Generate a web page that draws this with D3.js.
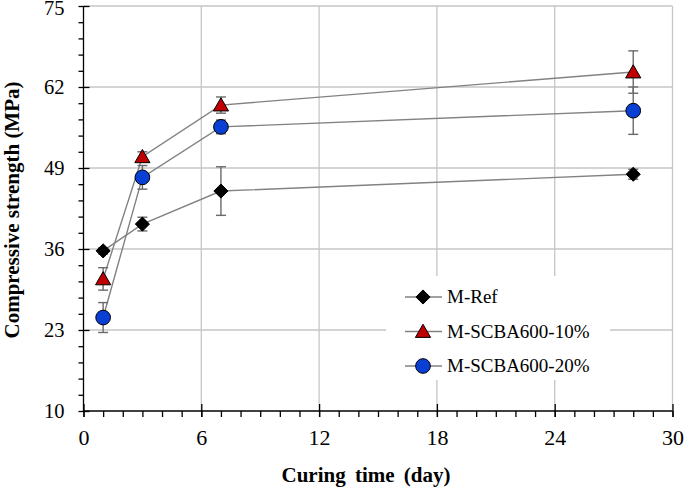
<!DOCTYPE html>
<html><head><meta charset="utf-8">
<script src="https://cdn.jsdelivr.net/npm/d3@7/dist/d3.min.js"></script>
<style>body{margin:0;background:#fff}svg{display:block}</style>
</head><body><svg id="c" width="685" height="493"></svg>
<script>
const days = [1, 3, 7, 28];
const seriesNames = ["M-Ref", "M-SCBA600-10%", "M-SCBA600-20%"];
const refValues = [35.7, 40.0, 45.3, 48.0];
const refErrors = [0.5, 1.1, 3.9, 0.8];
const scba10Values = [31.2, 50.8, 59.1, 64.4];
const scba10Errors = [1.8, 0.8, 1.3, 3.4];
const scba20Values = [25.0, 47.5, 55.6, 58.2];
const scba20Errors = [2.4, 1.9, 1.1, 3.8];
const xTicks = [0, 6, 12, 18, 24, 30];
const yTicks = [10, 23, 36, 49, 62, 75];

const svg = d3.select("#c");
const x = d3.scaleLinear().domain([0, 30]).range([83.5, 672.5]);
const y = d3.scaleLinear().domain([10, 75]).range([411, 6]);
const serif = "'Liberation Serif','Times New Roman',serif";

// grid
svg.append("g").selectAll("line").data(xTicks.slice(1)).join("line")
  .attr("x1", d => x(d)).attr("x2", d => x(d)).attr("y1", y(10)).attr("y2", y(75))
  .attr("stroke", "#c6c6c6").attr("stroke-width", 1.3);
svg.append("g").selectAll("line").data(yTicks.slice(1)).join("line")
  .attr("x1", x(0)).attr("x2", x(30)).attr("y1", d => y(d)).attr("y2", d => y(d))
  .attr("stroke", "#c6c6c6").attr("stroke-width", 1.3);

// axes
const xAxis = svg.append("g").attr("transform", `translate(0,${y(10)})`);
xAxis.call(d3.axisBottom(x).tickValues(d3.range(0, 31, 1)).tickSize(6).tickFormat(""));
xAxis.call(g => g.select(".domain").attr("d", `M${x(0)},0H${x(30)}`));
const xMaj = svg.append("g").attr("transform", `translate(0,${y(10)})`);
xMaj.call(d3.axisBottom(x).tickValues(xTicks).tickSize(6).tickPadding(12));
xMaj.select(".domain").remove();
xMaj.selectAll(".tick line").attr("y1", -7);
xMaj.selectAll("text").attr("font-family", serif).attr("font-size", 22).attr("fill", "#000");

const yAxis = svg.append("g").attr("transform", `translate(${x(0)},0)`);
yAxis.call(d3.axisLeft(y).tickValues(d3.range(10, 75.01, 2.6)).tickSize(5).tickFormat(""));
yAxis.call(g => g.select(".domain").attr("d", `M0,${y(10)}V${y(75)}`));
const yMaj = svg.append("g").attr("transform", `translate(${x(0)},0)`);
yMaj.call(d3.axisLeft(y).tickValues(yTicks).tickSize(6).tickPadding(13));
yMaj.select(".domain").remove();
yMaj.selectAll(".tick line").attr("x2", 6);
yMaj.selectAll("text").attr("font-family", serif).attr("font-size", 20.5).attr("fill", "#000")
  .attr("dy", d => d === 75 ? "0.4em" : "0.32em");
svg.selectAll(".domain, .tick line").attr("stroke", "#000").attr("stroke-width", 1.3);

// titles
svg.append("text").attr("x", 366).attr("y", 482).attr("text-anchor", "middle")
  .attr("font-family", serif).attr("font-weight", "bold").attr("font-size", 21)
  .attr("word-spacing", 4).text("Curing time (day)");
svg.append("text").attr("transform", "translate(19,210) rotate(-90)").attr("text-anchor", "middle")
  .attr("font-family", serif).attr("font-weight", "bold").attr("font-size", 21)
  .text("Compressive strength (MPa)");

const series = [
  {name: seriesNames[0], v: refValues, e: refErrors, shape: d3.symbolDiamond, size: 100, fill: "#000"},
  {name: seriesNames[1], v: scba10Values, e: scba10Errors, shape: d3.symbolTriangle, size: 100, fill: "#c00000"},
  {name: seriesNames[2], v: scba20Values, e: scba20Errors, shape: d3.symbolCircle, size: 170, fill: "#0a3fd4"}
];
const line = d3.line().x(d => x(d[0])).y(d => y(d[1]));
const diamond = {draw(ctx, size){const r = Math.sqrt(size/2); ctx.moveTo(0,-r); ctx.lineTo(r,0); ctx.lineTo(0,r); ctx.lineTo(-r,0); ctx.closePath();}};

series.forEach(s => {
  const pts = days.map((d, i) => [d, s.v[i], s.e[i]]);
  svg.append("path").datum(pts).attr("d", line).attr("fill", "none").attr("stroke", "#828282").attr("stroke-width", 1.4);
  const eb = svg.append("g");
  pts.forEach(p => {
    eb.append("line").attr("x1", x(p[0])).attr("x2", x(p[0])).attr("y1", y(p[1]-p[2])).attr("y2", y(p[1]+p[2]));
    [p[1]-p[2], p[1]+p[2]].forEach(v => eb.append("line").attr("x1", x(p[0])-5).attr("x2", x(p[0])+5).attr("y1", y(v)).attr("y2", y(v)));
  });
  eb.selectAll("line").attr("stroke", "#6a6a6a").attr("stroke-width", 1.4);
});
function drawSym(s, cx, cy){
  const sym = s.shape === d3.symbolDiamond ? diamond : s.shape;
  const dy = s.shape === d3.symbolTriangle ? 1.5 : 0;
  svg.append("path").attr("d", d3.symbol(sym, s.size)()).attr("transform", `translate(${cx},${cy+dy})`)
    .attr("fill", s.fill).attr("stroke", "#000").attr("stroke-width", 1);
}
series.forEach(s => days.forEach((d, i) => drawSym(s, x(d), y(s.v[i]))));

// legend
svg.append("rect").attr("x", 386).attr("y", 276).attr("width", 224).attr("height", 104).attr("fill", "#fff");
series.forEach((s, i) => {
  const ly = 297 + i * 34.5;
  svg.append("line").attr("x1", 405).attr("x2", 442).attr("y1", ly).attr("y2", ly).attr("stroke", "#828282").attr("stroke-width", 1.4);
  drawSym(s, 423, ly);
  svg.append("text").attr("x", 447).attr("y", ly + 6).attr("font-family", serif).attr("font-size", 19)
    .text(s.name);
});
</script></body></html>
